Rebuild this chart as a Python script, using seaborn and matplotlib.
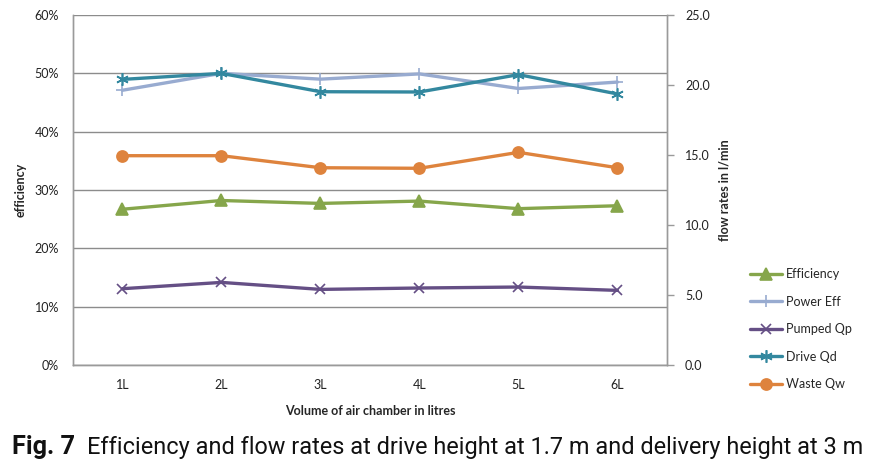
import pandas as pd
import matplotlib
matplotlib.use("Agg")
import matplotlib.pyplot as plt
import seaborn as sns
from matplotlib.ticker import PercentFormatter, FormatStrFormatter

# data
volumes = ['1L', '2L', '3L', '4L', '5L', '6L']
efficiency = [26.7, 28.2, 27.7, 28.1, 26.8, 27.3]      # %
power_eff = [47.1, 50.0, 49.0, 49.9, 47.4, 48.5]       # %
pumped_qp = [5.45, 5.9, 5.4, 5.5, 5.57, 5.33]          # l/min
drive_qd = [20.4, 20.83, 19.52, 19.5, 20.74, 19.36]    # l/min
waste_qw = [14.95, 14.95, 14.09, 14.05, 15.19, 14.09]  # l/min

sns.set_style('white')
plt.rcParams['font.family'] = ['Lato', 'DejaVu Sans']

fig = plt.figure(figsize=(8.74, 4.67), dpi=100)
ax = fig.add_axes([0.0835, 0.2184, 0.6796, 0.7495])
ax2 = ax.twinx()

df = pd.DataFrame({'vol': volumes, 'eff': efficiency, 'peff': power_eff,
                   'qp': pumped_qp, 'qd': drive_qd, 'qw': waste_qw})

# left axis series (efficiency in %)
left_series = [
    ('eff', 'Efficiency', '#86a64b', '^', 8),
    ('peff', 'Power Eff', '#98abd0', '+', 8),
]
# right axis series (flow rates)
right_series = [
    ('qp', 'Pumped Qp', '#654f85', 'x', 7),
    ('qd', 'Drive Qd', '#33889f', (6, 2, 0), 9),
    ('qw', 'Waste Qw', '#de833d', 'o', 8),
]

for col, name, c, m, ms in left_series:
    sns.lineplot(data=df, x='vol', y=col, ax=ax, color=c, marker=m,
                 markersize=ms, linewidth=2.4, label=name, sort=False,
                 markeredgecolor=c, markeredgewidth=1.2, legend=False)
for col, name, c, m, ms in right_series:
    sns.lineplot(data=df, x='vol', y=col, ax=ax2, color=c, marker=m,
                 markersize=ms, linewidth=2.4, label=name, sort=False,
                 markeredgecolor=c, markeredgewidth=1.2, legend=False)

ax.set_xlim(-0.5, 5.5)
ax.set_ylim(0, 60)
ax.set_yticks(range(0, 61, 10))
ax.yaxis.set_major_formatter(PercentFormatter(decimals=0))
ax2.set_ylim(0, 25)
ax2.set_yticks([0, 5, 10, 15, 20, 25])
ax2.yaxis.set_major_formatter(FormatStrFormatter('%.1f'))

ax.grid(axis='y', color='#8c8c8c', linewidth=1.0)
ax.set_axisbelow(True)
for a in (ax, ax2):
    for s in a.spines.values():
        s.set_color('#9a9a9a')
        s.set_linewidth(1.0)
ax.spines['top'].set_visible(False)
ax2.spines['top'].set_visible(False)

ax.tick_params(axis='y', length=0, labelsize=9, pad=10, colors='#222222')
ax.tick_params(axis='x', length=0, labelsize=9, pad=10, colors='#222222')
ax2.tick_params(axis='y', length=5, width=1, color='#9a9a9a', direction='out',
                labelsize=9, pad=8, labelcolor='#222222')

ax.set_xlabel('Volume of air chamber in litres', fontsize=9, fontweight='bold', labelpad=10)
ax.set_ylabel('efficiency', fontsize=9, fontweight='bold', labelpad=6)
ax2.set_ylabel('flow rates in l/min', fontsize=9, fontweight='bold', labelpad=6)

h1, l1 = ax.get_legend_handles_labels()
h2, l2 = ax2.get_legend_handles_labels()
fig.legend(h1 + h2, l1 + l2, loc='upper left', bbox_to_anchor=(0.852, 0.437),
           frameon=False, fontsize=9, handlelength=2.6, labelspacing=1.25,
           handletextpad=0.3, borderaxespad=0)

# caption: squeeze the font size so the line spans the same width as the reference
cap_font = ['Roboto', 'DejaVu Sans']
t1 = fig.text(12 / 874, 0.028, 'Fig. 7', fontsize=14, fontweight='bold',
              family=cap_font, va='baseline', color='#111111')
t2 = fig.text(87 / 874, 0.028,
              'Efficiency and flow rates at drive height at 1.7 m and delivery height at 3 m',
              fontsize=14, family=cap_font, va='baseline', color='#111111')
for _ in range(3):
    fig.canvas.draw()
    r = fig.canvas.get_renderer()
    w = t2.get_window_extent(r).width
    t2.set_fontsize(t2.get_fontsize() * 775 / w)
    w1 = t1.get_window_extent(r).width
    t1.set_fontsize(t1.get_fontsize() * 63 / w1)

fig.savefig('out.png', dpi=100)
